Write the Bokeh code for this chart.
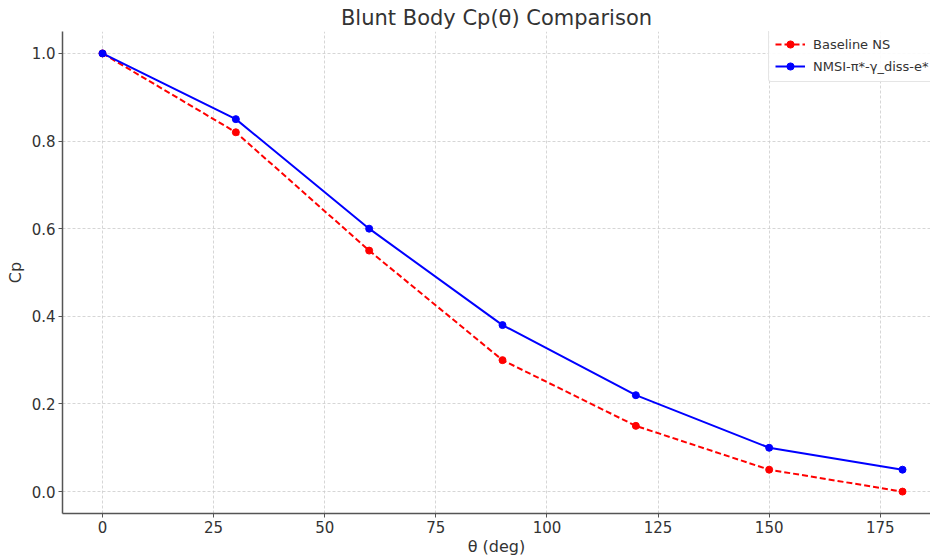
from bokeh.plotting import figure
from bokeh.models import Range1d, Legend, LegendItem
from bokeh.embed import file_html
from bokeh.resources import INLINE

theta = [0, 30, 60, 90, 120, 150, 180]
cp_baseline = [1.0, 0.82, 0.55, 0.30, 0.15, 0.05, 0.0]
cp_nmsi = [1.0, 0.85, 0.60, 0.38, 0.22, 0.10, 0.05]
x_ticks = [0, 25, 50, 75, 100, 125, 150, 175]
y_ticks = [0.0, 0.2, 0.4, 0.6, 0.8, 1.0]

FONT = "DejaVu Sans"

p = figure(width=930, height=558, output_backend="svg", toolbar_location=None,
           x_range=Range1d(-9, 186.3), y_range=Range1d(-0.05, 1.05),
           min_border_left=62, min_border_right=0, min_border_top=31, min_border_bottom=45)

p.title.text = "Blunt Body Cp(θ) Comparison"
p.title.text_font = FONT
p.title.text_font_size = "21px"
p.title.text_font_style = "normal"
p.title.text_color = "#333333"
p.title.align = "center"
p.title.offset = 0
p.title.standoff = 3

p.outline_line_color = None

for ax in (p.xaxis[0], p.yaxis[0]):
    ax.axis_line_color = "#555555"
    ax.axis_line_width = 1.5
    ax.major_tick_line_color = "#555555"
    ax.major_tick_out = 4
    ax.major_tick_in = 0
    ax.minor_tick_line_color = None
    ax.major_label_text_font = FONT
    ax.major_label_text_font_size = "15px"
    ax.major_label_text_color = "#333333"
    ax.major_label_standoff = 3
    ax.axis_label_text_font = FONT
    ax.axis_label_text_font_size = "16px"
    ax.axis_label_text_font_style = "normal"
    ax.axis_label_text_color = "#333333"

p.xaxis.ticker = x_ticks
p.yaxis.ticker = y_ticks
p.yaxis.major_label_overrides = {v: f"{v:.1f}" for v in y_ticks}
p.xaxis.axis_label = "θ (deg)"
p.yaxis.axis_label = "Cp"
p.xaxis.axis_label_standoff = 1
p.yaxis.axis_label_standoff = 4

p.grid.grid_line_color = "#cccccc"
p.grid.grid_line_dash = "3 2"
p.grid.grid_line_width = 0.8

l1 = p.line(theta, cp_baseline, line_color="red", line_width=2, line_dash="6 3")
s1 = p.scatter(theta, cp_baseline, size=7, fill_color="red", line_color="red")
l2 = p.line(theta, cp_nmsi, line_color="blue", line_width=2)
s2 = p.scatter(theta, cp_nmsi, size=7, fill_color="blue", line_color="blue")

legend = Legend(items=[
    LegendItem(label="Baseline NS", renderers=[l1, s1]),
    LegendItem(label="NMSI-π*-γ_diss-e*", renderers=[l2, s2]),
], location=(706, 431))
legend.label_text_font = FONT
legend.label_text_font_size = "13px"
legend.label_text_color = "#333333"
legend.border_line_color = "#cccccc"
legend.border_line_width = 1
legend.background_fill_alpha = 0.9
legend.glyph_width = 30
legend.glyph_height = 18
legend.spacing = 4
legend.padding = 6
legend.margin = 0
legend.label_standoff = 8
legend.border_radius = 3
p.add_layout(legend)

open("out.html", "w").write(file_html(p, INLINE))
